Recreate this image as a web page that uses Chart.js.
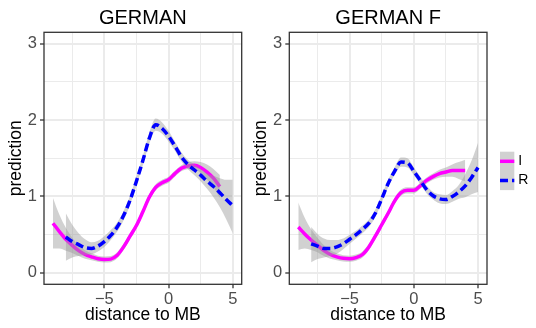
<!DOCTYPE html>
<html>
<head>
<meta charset="utf-8">
<script src="https://cdn.jsdelivr.net/npm/chart.js@4.4.1/dist/chart.umd.min.js"></script>
<style>
  html, body { margin: 0; padding: 0; background: #fff; }
  #wrap { position: relative; width: 536px; height: 328px; overflow: hidden; }
  #c1 { position: absolute; left: 0; top: 0; }
  #c2 { position: absolute; left: 245px; top: 0; }
</style>
</head>
<body>
<div id="wrap">
  <canvas id="c1" width="250" height="328"></canvas>
  <canvas id="c2" width="291" height="328"></canvas>
</div>
<script>
// panel titles and series names
const panelTitles = ['GERMAN', 'GERMAN F'];
const seriesNames = ['I', 'R'];

// x positions of the smoothed curves
const xI = [-9, -8.5, -8, -7.5, -7, -6.5, -6, -5.5, -5, -4.5, -4, -3.5, -3, -2.5, -2, -1.5, -1, -0.5, 0, 0.5, 1, 1.5, 2, 2.5, 3, 3.5, 4];
const xR = [-8, -7.5, -7, -6.5, -6, -5.5, -5, -4.5, -4, -3.5, -3, -2.5, -2, -1.5, -1, -0.5, 0, 0.5, 1, 1.5, 2, 2.5, 3, 3.5, 4, 4.5, 5];

// GERMAN
const g1I   = [0.65, 0.54, 0.44, 0.36, 0.29, 0.24, 0.21, 0.185, 0.175, 0.18, 0.23, 0.34, 0.48, 0.62, 0.80, 0.99, 1.12, 1.18, 1.22, 1.30, 1.37, 1.40, 1.41, 1.38, 1.32, 1.24, 1.13];
const g1ILo = [0.32, 0.32, 0.29, 0.26, 0.22, 0.185, 0.165, 0.145, 0.135, 0.14, 0.19, 0.30, 0.44, 0.58, 0.76, 0.95, 1.08, 1.14, 1.18, 1.26, 1.33, 1.355, 1.36, 1.31, 1.22, 1.12, 0.98];
const g1IHi = [0.98, 0.76, 0.59, 0.46, 0.36, 0.295, 0.255, 0.225, 0.215, 0.22, 0.27, 0.38, 0.52, 0.66, 0.84, 1.03, 1.16, 1.22, 1.26, 1.34, 1.41, 1.445, 1.46, 1.45, 1.42, 1.36, 1.28];
const g1R   = [0.47, 0.41, 0.37, 0.33, 0.32, 0.35, 0.41, 0.49, 0.60, 0.75, 0.95, 1.20, 1.47, 1.76, 1.94, 1.89, 1.79, 1.66, 1.52, 1.42, 1.35, 1.28, 1.20, 1.13, 1.05, 0.96, 0.88];
const g1RLo = [0.16, 0.20, 0.22, 0.23, 0.24, 0.28, 0.34, 0.43, 0.54, 0.69, 0.89, 1.14, 1.41, 1.69, 1.86, 1.82, 1.72, 1.60, 1.46, 1.36, 1.28, 1.20, 1.10, 0.99, 0.86, 0.70, 0.52];
const g1RHi = [0.78, 0.63, 0.52, 0.44, 0.40, 0.42, 0.48, 0.56, 0.66, 0.81, 1.01, 1.26, 1.53, 1.83, 2.02, 1.97, 1.86, 1.72, 1.58, 1.48, 1.42, 1.36, 1.30, 1.27, 1.24, 1.22, 1.22];

// GERMAN F
const g2I   = [0.60, 0.51, 0.43, 0.36, 0.29, 0.24, 0.21, 0.19, 0.185, 0.20, 0.24, 0.34, 0.48, 0.63, 0.78, 0.94, 1.05, 1.08, 1.08, 1.14, 1.21, 1.26, 1.30, 1.32, 1.34, 1.34, 1.34];
const g2ILo = [0.30, 0.32, 0.30, 0.27, 0.22, 0.185, 0.165, 0.15, 0.145, 0.16, 0.20, 0.30, 0.44, 0.59, 0.74, 0.90, 1.01, 1.04, 1.04, 1.10, 1.17, 1.22, 1.25, 1.26, 1.26, 1.23, 1.20];
const g2IHi = [0.92, 0.72, 0.57, 0.46, 0.36, 0.295, 0.255, 0.23, 0.225, 0.24, 0.28, 0.38, 0.52, 0.67, 0.82, 0.98, 1.09, 1.12, 1.12, 1.18, 1.25, 1.30, 1.35, 1.38, 1.42, 1.45, 1.48];
const g2R   = [0.38, 0.35, 0.32, 0.32, 0.34, 0.38, 0.44, 0.50, 0.57, 0.65, 0.78, 0.97, 1.17, 1.33, 1.45, 1.44, 1.33, 1.21, 1.09, 1.01, 0.97, 0.96, 1.00, 1.06, 1.14, 1.25, 1.38];
const g2RLo = [0.14, 0.18, 0.20, 0.22, 0.25, 0.31, 0.38, 0.45, 0.52, 0.60, 0.73, 0.92, 1.12, 1.28, 1.39, 1.38, 1.28, 1.16, 1.04, 0.96, 0.91, 0.90, 0.93, 0.97, 0.99, 1.03, 1.06];
const g2RHi = [0.60, 0.51, 0.45, 0.43, 0.43, 0.45, 0.50, 0.55, 0.62, 0.70, 0.83, 1.02, 1.22, 1.38, 1.51, 1.50, 1.38, 1.26, 1.14, 1.06, 1.03, 1.02, 1.07, 1.15, 1.29, 1.47, 1.70];

// axis ticks
const xMajor = [-5, 0, 5];
const xMinor = [-7.5, -2.5, 2.5];
const yMajor = [0, 1, 2, 3];
const yMinor = [0.5, 1.5, 2.5];

const FONT = '"Liberation Sans", Arial, Helvetica, sans-serif';
const colI = '#ff00ff';
const colR = '#0000ff';
const bandCol = 'rgba(153,153,153,0.45)';
const dash = [8, 4];

function pts(xs, ys) {
    return xs.map((x, i) => ({ x: x, y: ys[i] }));
}

function lineSet(xs, ys, color, dashed) {
    return {
        data: pts(xs, ys),
        borderColor: color,
        borderWidth: 3.5,
        borderDash: dashed ? dash : [],
        borderCapStyle: 'butt',
        pointRadius: 0,
        fill: false,
        cubicInterpolationMode: 'monotone'
    };
}

function bandSet(xs, ys, upper) {
    return {
        data: pts(xs, ys),
        borderWidth: 0,
        borderColor: 'rgba(0,0,0,0)',
        backgroundColor: bandCol,
        pointRadius: 0,
        fill: upper ? '+1' : false,
        cubicInterpolationMode: 'monotone'
    };
}

const fmt = v => v < 0 ? '\u2212' + Math.abs(v) : String(v);

const panelDeco = {
    id: 'panelDeco',
    afterDraw(chart) {
        const ctx = chart.ctx;
        const a = chart.chartArea;
        const o = chart.options.plugins.panelDeco;
        ctx.save();
        ctx.strokeStyle = '#333333';
        ctx.lineWidth = 1.3;
        ctx.strokeRect(a.left, a.top, a.right - a.left, a.bottom - a.top);
        ctx.fillStyle = '#000';
        ctx.font = '20px ' + FONT;
        ctx.textAlign = 'center';
        ctx.textBaseline = 'alphabetic';
        ctx.fillText(o.title, (a.left + a.right) / 2, 24);

        if (o.legend) {
            // legend keys drawn in page coordinates, shifted into this canvas
            const lx = 500 - 245, ly = 151.7, kw = 14.3, kh = 19.2;
            ctx.fillStyle = 'rgba(153,153,153,0.45)';
            ctx.fillRect(lx, ly, kw, kh * 2);
            ctx.lineWidth = 3.5;
            ctx.lineCap = 'butt';
            ctx.strokeStyle = colI;
            ctx.beginPath();
            ctx.moveTo(lx, ly + kh / 2);
            ctx.lineTo(lx + kw, ly + kh / 2);
            ctx.stroke();
            ctx.strokeStyle = colR;
            ctx.setLineDash(dash);
            ctx.beginPath();
            ctx.moveTo(lx, ly + kh * 1.5);
            ctx.lineTo(lx + kw, ly + kh * 1.5);
            ctx.stroke();
            ctx.setLineDash([]);
            ctx.fillStyle = '#000';
            ctx.font = '14px ' + FONT;
            ctx.textAlign = 'left';
            ctx.textBaseline = 'middle';
            ctx.fillText(seriesNames[0], lx + kw + 4, ly + kh / 2);
            ctx.fillText(seriesNames[1], lx + kw + 4, ly + kh * 1.5);
        }
        ctx.restore();
    }
};

function makePanel(canvasId, title, I, ILo, IHi, R, RLo, RHi, yAxisW, padRight, legend) {
    const majorX = v => xMajor.indexOf(v) >= 0;
    const majorY = v => yMajor.indexOf(v) >= 0;
    return new Chart(document.getElementById(canvasId), {
        type: 'line',
        data: {
            datasets: [
                lineSet(xR, R, colR, true),
                bandSet(xR, RHi, true),
                bandSet(xR, RLo, false),
                lineSet(xI, I, colI, false),
                bandSet(xI, IHi, true),
                bandSet(xI, ILo, false)
            ]
        },
        options: {
            responsive: false,
            animation: false,
            layout: { padding: { left: 0, right: padRight, top: 32.3, bottom: 0 } },
            plugins: {
                legend: { display: false },
                tooltip: { enabled: false },
                panelDeco: { title: title, legend: legend }
            },
            scales: {
                x: {
                    type: 'linear',
                    min: -9.7,
                    max: 5.7,
                    afterBuildTicks: s => { s.ticks = xMinor.concat(xMajor).sort((a, b) => a - b).map(v => ({ value: v })); },
                    afterFit: s => { s.height = 43.7; },
                    border: { display: false },
                    grid: {
                        color: '#ebebeb',
                        lineWidth: c => majorX(c.tick.value) ? 2 : 1,
                        tickColor: c => majorX(c.tick.value) ? '#333333' : 'rgba(0,0,0,0)',
                        tickLength: 4,
                        tickWidth: 1.3
                    },
                    ticks: {
                        autoSkip: false,
                        maxRotation: 0,
                        padding: 1,
                        color: '#4d4d4d',
                        font: { family: FONT, size: 16.5 },
                        callback: v => majorX(v) ? fmt(v) : ''
                    },
                    title: {
                        display: true,
                        text: 'distance to MB',
                        color: '#000',
                        font: { family: FONT, size: 17.5 },
                        padding: { top: 0, bottom: 2 }
                    }
                },
                y: {
                    type: 'linear',
                    min: -0.15,
                    max: 3.15,
                    afterBuildTicks: s => { s.ticks = yMinor.concat(yMajor).sort((a, b) => a - b).map(v => ({ value: v })); },
                    afterFit: s => { s.width = yAxisW; },
                    border: { display: false },
                    grid: {
                        color: '#ebebeb',
                        lineWidth: c => majorY(c.tick.value) ? 2 : 1,
                        tickColor: c => majorY(c.tick.value) ? '#333333' : 'rgba(0,0,0,0)',
                        tickLength: 4,
                        tickWidth: 1.3
                    },
                    ticks: {
                        autoSkip: false,
                        padding: 3,
                        color: '#4d4d4d',
                        font: { family: FONT, size: 16.5 },
                        callback: v => majorY(v) ? fmt(v) : ''
                    },
                    title: {
                        display: true,
                        text: 'prediction',
                        color: '#000',
                        font: { family: FONT, size: 17.5 },
                        padding: { top: 6, bottom: 0 }
                    }
                }
            }
        },
        plugins: [panelDeco]
    });
}

makePanel('c1', panelTitles[0], g1I, g1ILo, g1IHi, g1R, g1RLo, g1RHi, 44, 8.3, false);
makePanel('c2', panelTitles[1], g2I, g2ILo, g2IHi, g2R, g2RLo, g2RHi, 44.3, 49, true);
</script>
</body>
</html>
